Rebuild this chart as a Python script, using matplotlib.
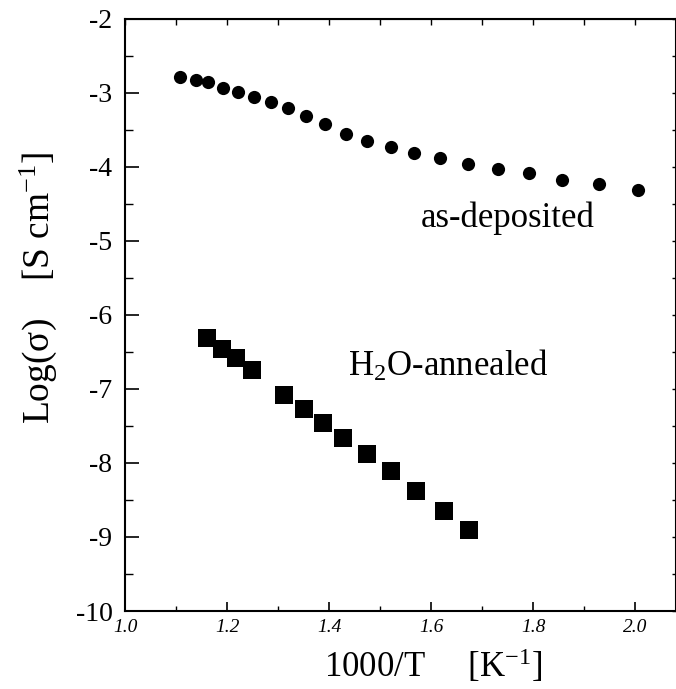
import matplotlib.pyplot as plt
from matplotlib.ticker import MultipleLocator

plt.rcParams['font.family'] = ['Liberation Serif', 'DejaVu Serif']
plt.rcParams['mathtext.default'] = 'regular'

# as-deposited (circles)
x_dep = [1.108, 1.139, 1.163, 1.193, 1.222, 1.253, 1.286, 1.319, 1.354, 1.392, 1.433,
         1.475, 1.521, 1.566, 1.618, 1.673, 1.731, 1.792, 1.857, 1.929, 2.006]
y_dep = [-2.79, -2.83, -2.86, -2.94, -2.99, -3.06, -3.13, -3.21, -3.31, -3.43, -3.56,
         -3.65, -3.74, -3.82, -3.88, -3.97, -4.03, -4.09, -4.18, -4.23, -4.32]

# H2O-annealed (squares)
x_ann = [1.161, 1.190, 1.218, 1.248, 1.312, 1.351, 1.388, 1.428, 1.474, 1.521, 1.570, 1.626, 1.675]
y_ann = [-6.32, -6.46, -6.59, -6.75, -7.09, -7.27, -7.46, -7.66, -7.88, -8.11, -8.38, -8.65, -8.90]

xticks = [1.0, 1.2, 1.4, 1.6, 1.8, 2.0]
yticks = [-10, -9, -8, -7, -6, -5, -4, -3, -2]

fig = plt.figure(figsize=(6.76, 6.89), dpi=100)
ax = fig.add_axes([0.1849, 0.1132, 0.8151, 0.8599])

ax.plot(x_dep, y_dep, 'o', color='k', markersize=9.5, markeredgewidth=0)
ax.plot(x_ann, y_ann, 's', color='k', markersize=13, markeredgewidth=0)

ax.set_xlim(1.0, 2.08)
ax.set_ylim(-10, -2)

ax.set_xticks(xticks)
ax.set_xticklabels(['%.1f' % t for t in xticks], fontsize=14, style='italic')
ax.set_yticks(yticks)
ax.set_yticklabels(['%d' % t for t in yticks], fontsize=20)
ax.xaxis.set_minor_locator(MultipleLocator(0.1))
ax.yaxis.set_minor_locator(MultipleLocator(0.5))

ax.tick_params(axis='x', which='major', direction='in', length=6.5, width=1.2, pad=6, top=False)
ax.tick_params(axis='x', which='minor', direction='in', length=3.5, width=1.0, top=False)
ax.tick_params(axis='y', which='major', direction='in', length=10, width=1.2, pad=9, right=False)
ax.tick_params(axis='y', which='minor', direction='in', length=5.5, width=1.0, right=False)

# short ticks on top and right, no labels
top = ax.secondary_xaxis('top')
top.set_xticks(xticks)
top.xaxis.set_minor_locator(MultipleLocator(0.1))
top.tick_params(which='both', direction='in', length=4, width=1.0, labeltop=False)
right = ax.secondary_yaxis('right')
right.set_yticks(yticks)
right.yaxis.set_minor_locator(MultipleLocator(0.5))
right.tick_params(which='both', direction='in', length=3, width=1.0, labelright=False)

for s in ax.spines.values():
    s.set_linewidth(1.5)

ax.set_xlabel('1000/T     [K$^{-1}$]', fontsize=25)
ax.xaxis.set_label_coords(0.56, -0.062)
ax.set_ylabel('Log(σ)    [S cm$^{-1}$]', fontsize=27)
ax.yaxis.set_label_coords(-0.12, 0.545)

ax.text(1.751, -4.81, 'as-deposited', fontsize=25, ha='center', va='baseline')
ax.text(1.633, -6.82, 'H$_2$O-annealed', fontsize=25, ha='center', va='baseline')

plt.savefig('out.png', dpi=100)
